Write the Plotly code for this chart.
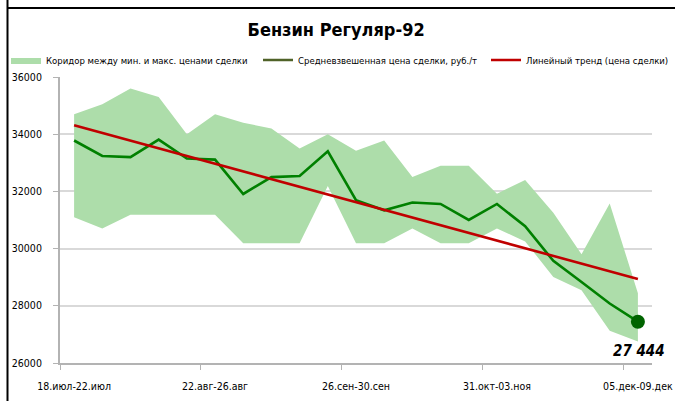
import numpy as np
import plotly.graph_objects as go

# ---- data ----
week_labels = ["18.июл-22.июл", "", "", "", "", "22.авг-26.авг", "", "", "", "",
               "26.сен-30.сен", "", "", "", "", "31.окт-03.ноя", "", "", "", "",
               "05.дек-09.дек"]
price_max = [34700, 35050, 35600, 35300, 34000, 34700, 34400, 34200, 33500, 34000,
             33420, 33780, 32500, 32900, 32900, 31920, 32400, 31250, 29800, 31580, 28440]
price_min = [31100, 30700, 31180, 31180, 31180, 31180, 30190, 30190, 30190, 32190,
             30190, 30190, 30700, 30190, 30190, 30700, 30250, 29010, 28540, 27130, 26750]
price_avg = [33780, 33240, 33200, 33810, 33150, 33110, 31910, 32500, 32540, 33400,
             31690, 31340, 31610, 31560, 31000, 31560, 30780, 29570, 28830, 28080, 27444]
y_ticks = [26000, 28000, 30000, 32000, 34000, 36000]

title_text = "Бензин Регуляр-92"
name_band = "Коридор между мин. и макс. ценами сделки"
name_avg = "Средневзвешенная цена сделки, руб./т"
name_trend = "Линейный тренд (цена сделки)"

# ---- layout constants ----
W, H = 675, 401
ML, MR, MT, MB = 60, 23, 77, 38
FONT = "DejaVu Sans Condensed, Liberation Sans Narrow, sans-serif"

idx = list(range(len(price_avg)))
coef = np.polyfit(idx, price_avg, 1)
trend = list(np.polyval(coef, idx))

fig = go.Figure()

# band
fig.add_trace(go.Scatter(
    x=idx + idx[::-1], y=price_max + price_min[::-1],
    fill="toself", fillcolor="#ADDDAA", mode="lines",
    line=dict(width=0, color="#ADDDAA"), name=name_band, hoverinfo="skip",
    legend="legend"))

# average line (legend shown via separate entry)
fig.add_trace(go.Scatter(
    x=idx, y=price_avg, mode="lines", line=dict(color="#008000", width=2.6),
    showlegend=False, name=name_avg))
fig.add_trace(go.Scatter(
    x=[None], y=[None], mode="lines", line=dict(color="#4F6228", width=2.6),
    name=name_avg, legend="legend2"))

# trend
fig.add_trace(go.Scatter(
    x=idx, y=trend, mode="lines", line=dict(color="#C00000", width=2.6),
    name=name_trend, legend="legend3"))

# last point
fig.add_trace(go.Scatter(
    x=[idx[-1]], y=[price_avg[-1]], mode="markers",
    marker=dict(color="#006400", size=14), showlegend=False))

last_txt = f"{price_avg[-1]:,}".replace(",", " ")
fig.add_annotation(x=idx[-1], y=price_avg[-1], text=f"<b><i>{last_txt}</i></b>",
                   showarrow=False, yshift=-29, xshift=1,
                   font=dict(family=FONT, size=15, color="#000000"))

tickvals = [i for i, t in enumerate(week_labels) if t]
ticktext = [t for t in week_labels if t]

fig.update_xaxes(
    range=[-0.5, len(idx) - 0.5], tickmode="array", tickvals=tickvals, ticktext=ticktext,
    ticks="", showgrid=False, zeroline=False, automargin=False,
    ticklabeloverflow="allow",
    showline=True, linecolor="#B3B3B3", linewidth=2,
    tickfont=dict(family=FONT, size=10.5, color="#000000"), ticklabelstandoff=12,
    minor=dict(tickmode="array", tickvals=[-0.5 + 5 * k for k in range(5)],
               ticks="outside", ticklen=5, tickcolor="#B3B3B3", tickwidth=1, showgrid=False))

fig.update_yaxes(
    range=[26000, 36000], tickmode="array", tickvals=y_ticks,
    ticktext=[str(v) for v in y_ticks], automargin=False,
    ticklabeloverflow="allow",
    ticks="outside", ticklen=5, tickcolor="#B3B3B3", tickwidth=1,
    showgrid=True, gridcolor="#D9D9D9", gridwidth=1.5, zeroline=False,
    showline=True, linecolor="#B3B3B3", linewidth=2,
    tickfont=dict(family=FONT, size=10.5, color="#000000"), ticklabelstandoff=9)

# frame lines (left and top)
pw = W - ML - MR
ph = H - MT - MB
def px2paper_x(px):
    return (px - ML) / pw
def px2paper_y(py):
    return (H - MB - py) / ph

fig.add_shape(type="line", xref="paper", yref="paper",
              x0=px2paper_x(7.5), x1=px2paper_x(7.5), y0=px2paper_y(0), y1=px2paper_y(H),
              line=dict(color="#000000", width=2))
fig.add_shape(type="line", xref="paper", yref="paper",
              x0=px2paper_x(7.5), x1=px2paper_x(W), y0=px2paper_y(8), y1=px2paper_y(8),
              line=dict(color="#000000", width=2))

legend_common = dict(orientation="h", xref="container", yref="container",
                     xanchor="left", y=1 - 60 / H, yanchor="middle",
                     font=dict(family=FONT, size=9.5, color="#000000"),
                     itemwidth=30, bgcolor="rgba(0,0,0,0)")

fig.update_layout(
    width=W, height=H, margin=dict(l=ML, r=MR, t=MT, b=MB, autoexpand=False),
    paper_bgcolor="#FFFFFF", plot_bgcolor="#FFFFFF",
    title=dict(text=f"<b>{title_text}</b>", x=0.498, xanchor="center",
               y=1 - 30 / H, yanchor="middle",
               font=dict(family=FONT, size=18, color="#000000")),
    legend=dict(x=6 / W, **legend_common),
    legend2=dict(x=258 / W, **legend_common),
    legend3=dict(x=486 / W, **legend_common),
    showlegend=True,
)

fig.write_html("out.html", post_script="document.body.style.margin='0';",
               config={"displayModeBar": False})
